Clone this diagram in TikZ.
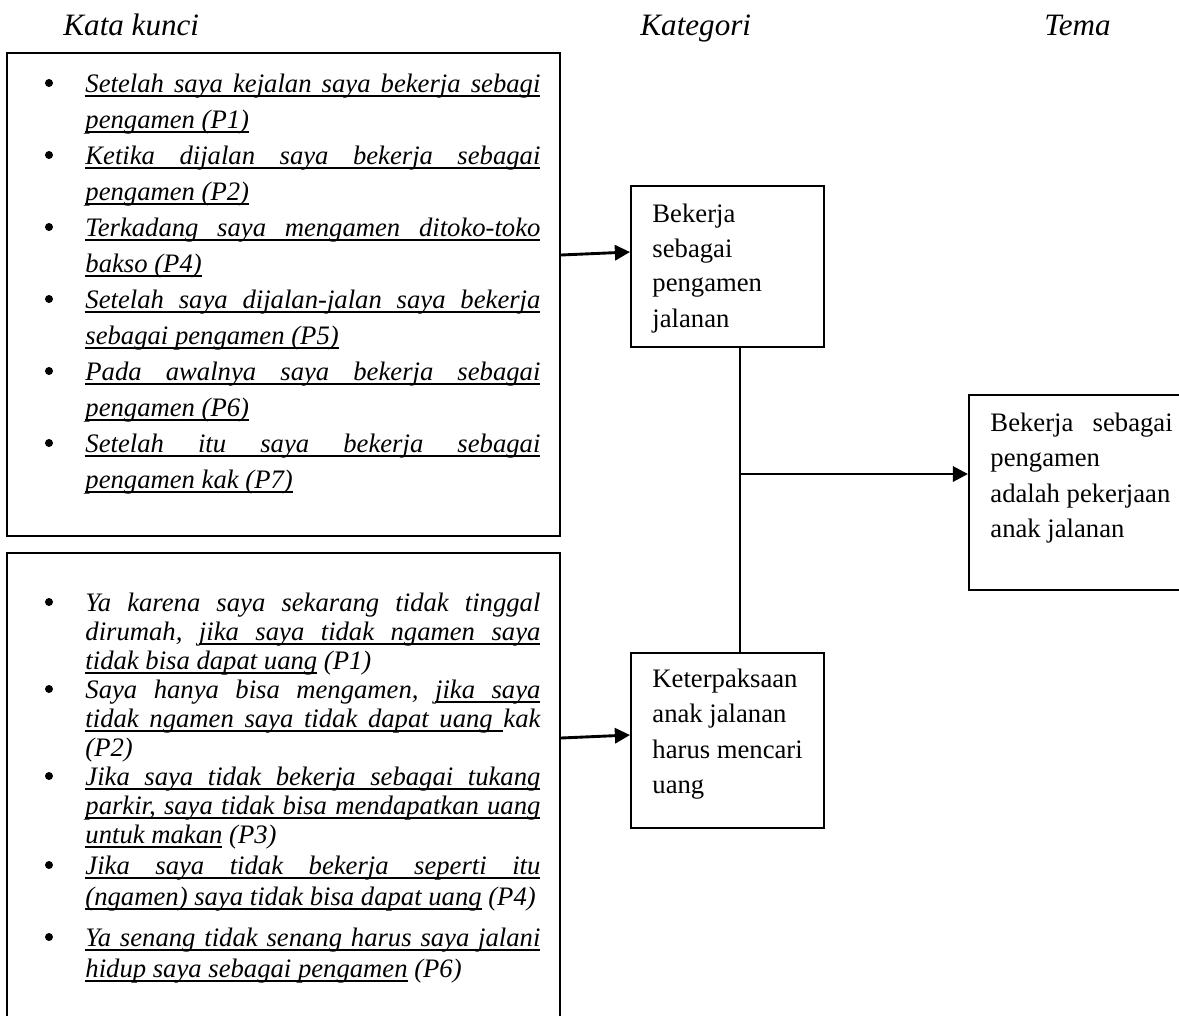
\documentclass[tikz,border=0pt]{standalone}
\usepackage{fontspec}
\setmainfont{Liberation Serif}
\usetikzlibrary{arrows.meta,fit}
\setlength{\parindent}{0pt}
\frenchspacing
\newcommand{\J}[1]{\hbox to 204.75pt{#1}}
\newcommand{\R}[1]{\hbox to 204.75pt{#1\hfil}}
\newcommand{\ulword}[1]{\setbox0\hbox{#1}\rlap{\vrule height -1.2pt depth 2.1pt width \wd0}\box0}
\newcommand{\ulspace}{\leaders\hrule height -1.2pt depth 2.1pt\hskip\fontdimen2\font plus\fontdimen3\font minus\fontdimen4\font\relax}
\ExplSyntaxOn
\NewDocumentCommand{\UL}{m}
 {
  \seq_set_split:Nnn \l_tmpa_seq { ~ } { #1 }
  \seq_map_indexed_inline:Nn \l_tmpa_seq
   {
    \int_compare:nNnT { ##1 } > { 1 } { \ulspace }
    \ulword { ##2 }
   }
 }
\ExplSyntaxOff
\tikzset{
  box/.style={draw, line width=0.9pt, inner sep=0pt},
  kline/.style={anchor=base west, inner sep=0pt, font=\fontsize{12}{14}\selectfont\itshape},
  cline/.style={anchor=base west, inner sep=0pt, font=\fontsize{12}{14}\selectfont},
  head/.style={anchor=base west, inner sep=0pt, font=\fontsize{14}{16}\selectfont\itshape},
  arr/.style={line width=1.3pt, -{Triangle[length=6.8pt,width=6.8pt]}},
  conn/.style={line width=1pt},
}
\newcommand{\bul}[1]{\fill (49,#1) circle (1.8pt);}
\begin{document}
\begin{tikzpicture}[x=0.45pt,y=-0.45pt]
\useasboundingbox (0,0) rectangle (1179,1015);
\clip (0,0) rectangle (1179,1015);

% headers
\node[head] (h1) at (63,35) {Kata kunci};
\node[head] (h2) at (640,35) {Kategori};
\node[head] (h3) at (1044,35) {Tema};

% boxes
\node[box, fit={(7,53) (560,536)}] (kb1) {};
\node[box, fit={(7,553) (560,1040)}] (kb2) {};
\node[box, fit={(631,186) (824,347)}] (ka) {};
\node[box, fit={(631,653) (824,828)}] (kbB) {};
\node[box, fit={(969,395) (1210,590)}] (tema) {};

% box 1 text
\bul{83}\bul{155}\bul{227}\bul{299}\bul{371}\bul{443}
\node[kline] (a1) at (85,92)  {\J{\UL{Setelah saya kejalan saya bekerja sebagi}}};
\node[kline] (a2) at (85,128) {\R{\UL{pengamen (P1)}}};
\node[kline] (a3) at (85,164) {\J{\UL{Ketika dijalan saya bekerja sebagai}}};
\node[kline] (a4) at (85,200) {\R{\UL{pengamen (P2)}}};
\node[kline] (a5) at (85,236) {\J{\UL{Terkadang saya mengamen ditoko-toko}}};
\node[kline] (a6) at (85,272) {\R{\UL{bakso (P4)}}};
\node[kline] (a7) at (85,308) {\J{\UL{Setelah saya dijalan-jalan saya bekerja}}};
\node[kline] (a8) at (85,344) {\R{\UL{sebagai pengamen (P5)}}};
\node[kline] (a9) at (85,380) {\J{\UL{Pada awalnya saya bekerja sebagai}}};
\node[kline] (a10) at (85,416) {\R{\UL{pengamen (P6)}}};
\node[kline] (a11) at (85,452) {\J{\UL{Setelah itu saya bekerja sebagai}}};
\node[kline] (a12) at (85,488) {\R{\UL{pengamen kak (P7)}}};

% box 2 text
\bul{602}\bul{689}\bul{776}\bul{865}\bul{937}
\node[kline] (b1) at (85,611) {\J{Ya karena saya sekarang tidak tinggal}};
\node[kline] (b2) at (85,640) {\J{dirumah, \UL{jika saya tidak ngamen saya}}};
\node[kline] (b3) at (85,669) {\R{\UL{tidak bisa dapat uang} (P1)}};
\node[kline] (b4) at (85,698) {\J{Saya hanya bisa mengamen, \UL{jika saya}}};
\node[kline] (b5) at (85,727) {\J{\UL{tidak ngamen saya tidak dapat uang}\ulspace kak}};
\node[kline] (b6) at (85,756) {\R{(P2)}};
\node[kline] (b7) at (85,785) {\J{\UL{Jika saya tidak bekerja sebagai tukang}}};
\node[kline] (b8) at (85,814) {\J{\UL{parkir, saya tidak bisa mendapatkan uang}}};
\node[kline] (b9) at (85,843) {\R{\UL{untuk makan} (P3)}};
\node[kline] (b10) at (85,874) {\J{\UL{Jika saya tidak bekerja seperti itu}}};
\node[kline] (b11) at (85,905) {\R{\UL{(ngamen) saya tidak bisa dapat uang} (P4)}};
\node[kline] (b12) at (85,946) {\J{\UL{Ya senang tidak senang harus saya jalani}}};
\node[kline] (b13) at (85,977) {\R{\UL{hidup saya sebagai pengamen} (P6)}};

% category texts
\node[cline] (c1) at (652,222) {Bekerja};
\node[cline] (c2) at (652,257) {sebagai};
\node[cline] (c3) at (652,291) {pengamen};
\node[cline] (c4) at (652,327) {jalanan};
\node[cline] (d1) at (652,687) {Keterpaksaan};
\node[cline] (d2) at (652,722) {anak jalanan};
\node[cline] (d3) at (652,758) {harus mencari};
\node[cline] (d4) at (652,793) {uang};

% theme text
\node[cline] (t1) at (990,431) {\hbox to 82pt{Bekerja sebagai}};
\node[cline] (t2) at (990,466) {pengamen};
\node[cline] (t3) at (990,502) {adalah pekerjaan};
\node[cline] (t4) at (990,537) {anak jalanan};

% connectors
\coordinate (y1s) at (0,255);
\coordinate (y1e) at (0,252);
\coordinate (y2s) at (0,738);
\coordinate (y2e) at (0,735);
\coordinate (vx) at (740,0);
\coordinate (jn) at (740,474);
\draw[arr] (kb1.east |- y1s) -- (ka.west |- y1e);
\draw[arr] (kb2.east |- y2s) -- (kbB.west |- y2e);
\draw[conn] (ka.south -| vx) -- (kbB.north -| vx);
\draw[arr] (jn) -- (tema.west |- jn);
\end{tikzpicture}
\end{document}
